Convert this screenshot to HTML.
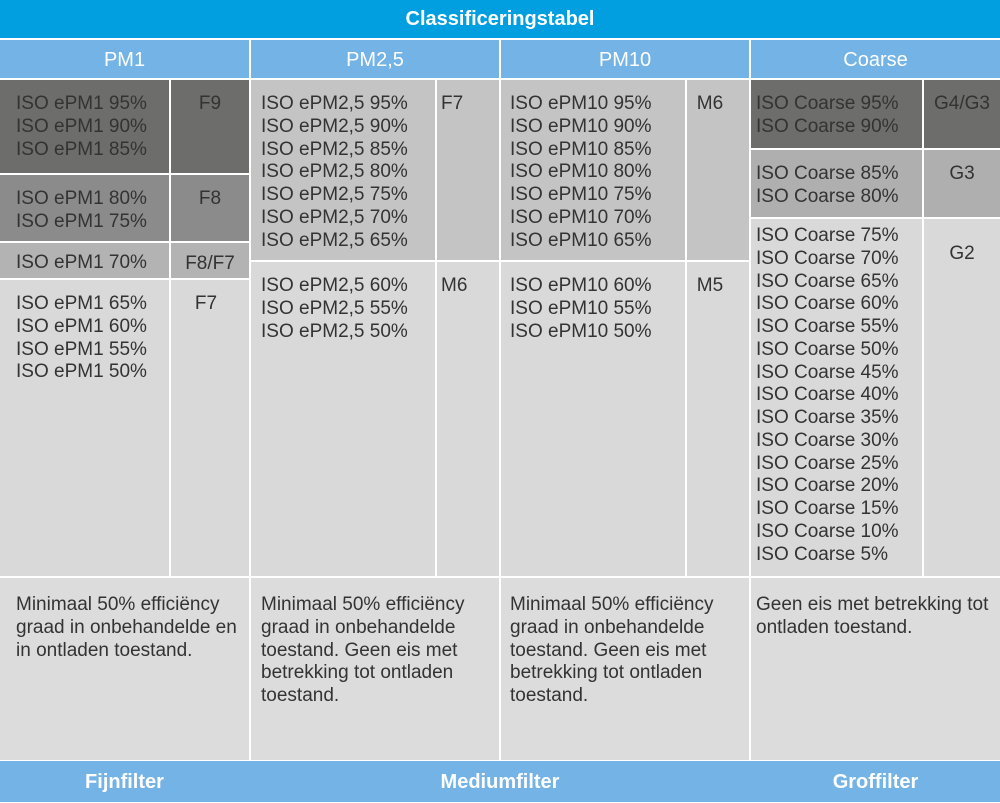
<!DOCTYPE html>
<html><head><meta charset="utf-8"><style>
body{margin:0;width:1000px;height:802px;background:#fff;position:relative;overflow:hidden;font-family:"Liberation Sans",sans-serif;}
.c{position:absolute;box-sizing:border-box;color:#333;font-size:19px;line-height:22.75px;padding:13px 0 0 16px;white-space:pre;}
.r{padding-left:0;text-align:center;}
.h{position:absolute;color:#fff;text-align:center;box-sizing:border-box;}
</style></head><body>
<div class="h" style="left:0;top:0;width:1000px;height:38px;background:#019fe0;font-weight:bold;font-size:20px;line-height:38px;">Classificeringstabel</div>
<div class="h" style="left:0;top:40px;width:249px;height:38px;background:#74b3e5;font-size:20px;line-height:40px;">PM1</div>
<div class="h" style="left:251px;top:40px;width:248px;height:38px;background:#74b3e5;font-size:20px;line-height:40px;">PM2,5</div>
<div class="h" style="left:501px;top:40px;width:248px;height:38px;background:#74b3e5;font-size:20px;line-height:40px;">PM10</div>
<div class="h" style="left:751px;top:40px;width:249px;height:38px;background:#74b3e5;font-size:20px;line-height:40px;">Coarse</div>

<!-- PM1 -->
<div class="c" style="left:0;top:80px;width:169px;height:93px;background:#6d6d6b;">ISO ePM1 95%
ISO ePM1 90%
ISO ePM1 85%</div>
<div class="c r" style="left:171px;top:80px;width:78px;height:93px;background:#6d6d6b;">F9</div>
<div class="c" style="left:0;top:175px;width:169px;height:66px;background:#8b8b8b;">ISO ePM1 80%
ISO ePM1 75%</div>
<div class="c r" style="left:171px;top:175px;width:78px;height:66px;background:#8b8b8b;">F8</div>
<div class="c" style="left:0;top:243px;width:169px;height:35px;background:#b3b3b3;padding-top:9px;">ISO ePM1 70%</div>
<div class="c r" style="left:171px;top:243px;width:78px;height:35px;background:#b3b3b3;padding-top:10px;">F8/F7</div>
<div class="c" style="left:0;top:280px;width:169px;height:296px;background:#d9d9d9;">ISO ePM1 65%
ISO ePM1 60%
ISO ePM1 55%
ISO ePM1 50%</div>
<div class="c r" style="left:171px;top:280px;width:70px;height:296px;background:#d9d9d9;">F7</div>
<div style="position:absolute;left:241px;top:280px;width:8px;height:296px;background:#d9d9d9;"></div>

<!-- PM2.5 -->
<div class="c" style="left:251px;top:80px;width:184px;height:180px;background:#c4c4c4;padding-left:10px;">ISO ePM2,5 95%
ISO ePM2,5 90%
ISO ePM2,5 85%
ISO ePM2,5 80%
ISO ePM2,5 75%
ISO ePM2,5 70%
ISO ePM2,5 65%</div>
<div class="c" style="left:437px;top:80px;width:62px;height:180px;background:#c4c4c4;padding-left:4px;">F7</div>
<div class="c" style="left:251px;top:262px;width:184px;height:314px;background:#d9d9d9;padding-left:10px;">ISO ePM2,5 60%
ISO ePM2,5 55%
ISO ePM2,5 50%</div>
<div class="c" style="left:437px;top:262px;width:62px;height:314px;background:#d9d9d9;padding-left:4px;">M6</div>

<!-- PM10 -->
<div class="c" style="left:501px;top:80px;width:184px;height:180px;background:#c4c4c4;padding-left:9px;">ISO ePM10 95%
ISO ePM10 90%
ISO ePM10 85%
ISO ePM10 80%
ISO ePM10 75%
ISO ePM10 70%
ISO ePM10 65%</div>
<div class="c r" style="left:687px;top:80px;width:46px;height:180px;background:#c4c4c4;">M6</div>
<div style="position:absolute;left:733px;top:80px;width:16px;height:180px;background:#c4c4c4;"></div>
<div class="c" style="left:501px;top:262px;width:184px;height:314px;background:#d9d9d9;padding-left:9px;">ISO ePM10 60%
ISO ePM10 55%
ISO ePM10 50%</div>
<div class="c r" style="left:687px;top:262px;width:46px;height:314px;background:#d9d9d9;">M5</div>
<div style="position:absolute;left:733px;top:262px;width:16px;height:314px;background:#d9d9d9;"></div>

<!-- Coarse -->
<div class="c" style="left:751px;top:80px;width:171px;height:68px;background:#6d6d6b;padding-left:5px;">ISO Coarse 95%
ISO Coarse 90%</div>
<div class="c r" style="left:924px;top:80px;width:76px;height:68px;background:#6d6d6b;">G4/G3</div>
<div class="c" style="left:751px;top:150px;width:171px;height:67px;background:#afafaf;padding-left:5px;">ISO Coarse 85%
ISO Coarse 80%</div>
<div class="c r" style="left:924px;top:150px;width:76px;height:67px;background:#afafaf;">G3</div>
<div class="c" style="left:751px;top:219px;width:171px;height:357px;background:#d9d9d9;padding-left:5px;padding-top:6px;">ISO Coarse 75%
ISO Coarse 70%
ISO Coarse 65%
ISO Coarse 60%
ISO Coarse 55%
ISO Coarse 50%
ISO Coarse 45%
ISO Coarse 40%
ISO Coarse 35%
ISO Coarse 30%
ISO Coarse 25%
ISO Coarse 20%
ISO Coarse 15%
ISO Coarse 10%
ISO Coarse 5%</div>
<div class="c r" style="left:924px;top:219px;width:76px;height:357px;background:#d9d9d9;padding-top:24px;">G2</div>

<!-- descriptions -->
<div class="c" style="left:0;top:578px;width:249px;height:182px;background:#dcdcdc;padding-top:16px;">Minimaal 50% efficiëncy
graad in onbehandelde en
in ontladen toestand.</div>
<div class="c" style="left:251px;top:578px;width:248px;height:182px;background:#dcdcdc;padding-top:16px;padding-left:10px;">Minimaal 50% efficiëncy
graad in onbehandelde
toestand. Geen eis met
betrekking tot ontladen
toestand.</div>
<div class="c" style="left:501px;top:578px;width:248px;height:182px;background:#dcdcdc;padding-top:16px;padding-left:9px;">Minimaal 50% efficiëncy
graad in onbehandelde
toestand. Geen eis met
betrekking tot ontladen
toestand.</div>
<div class="c" style="left:751px;top:578px;width:249px;height:182px;background:#dcdcdc;padding-top:16px;padding-left:5px;">Geen eis met betrekking tot
ontladen toestand.</div>

<div class="h" style="left:0;top:761px;width:1000px;height:41px;background:#74b3e5;"></div>
<div class="h" style="left:0;top:761px;width:249px;height:41px;font-weight:bold;font-size:20px;line-height:42px;">Fijnfilter</div>
<div class="h" style="left:251px;top:761px;width:498px;height:41px;font-weight:bold;font-size:20px;line-height:42px;">Mediumfilter</div>
<div class="h" style="left:751px;top:761px;width:249px;height:41px;font-weight:bold;font-size:20px;line-height:42px;">Groffilter</div>
</body></html>
